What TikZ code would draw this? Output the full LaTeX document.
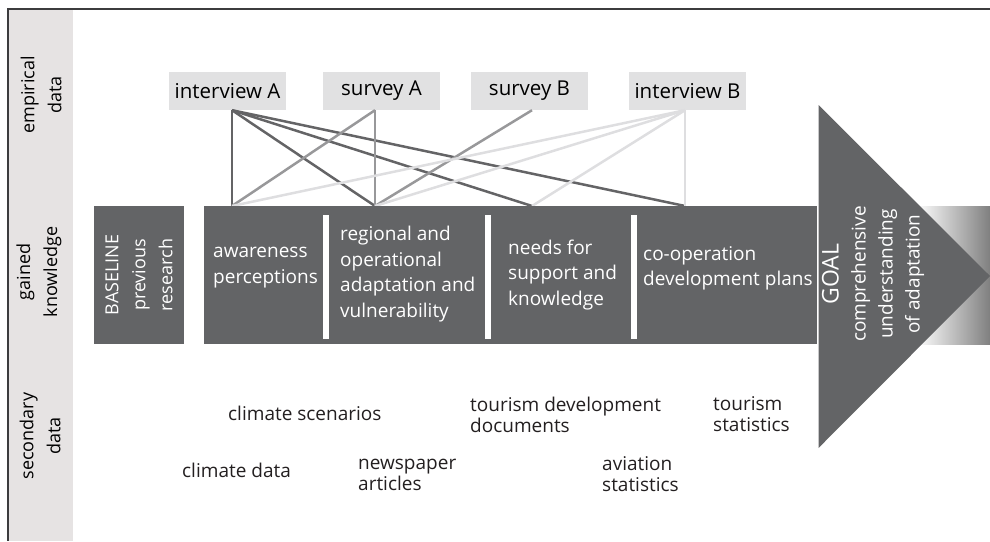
\documentclass[tikz,border=0pt]{standalone}
\usepackage{fontspec}
\setmainfont{Open Sans}
\usetikzlibrary{positioning}
\definecolor{knowgray}{RGB}{99,100,102}
\definecolor{empgray}{RGB}{225,225,226}
\definecolor{bandgray}{RGB}{230,227,227}
\definecolor{framegray}{RGB}{60,60,62}
\definecolor{linedark}{RGB}{100,100,102}
\definecolor{linemid}{RGB}{152,152,154}
\definecolor{linelight}{RGB}{222,222,224}
\definecolor{sectextcol}{RGB}{35,31,32}

\tikzset{
  empbox/.style={fill=empgray, minimum width=117pt, minimum height=38pt,
                 inner sep=0pt, font=\fontsize{20.5}{22}\selectfont},
  knowbox/.style={fill=knowgray, minimum height=138pt, inner sep=0pt},
  knowtext/.style={text=white, align=left, anchor=west, inner sep=0pt,
                   font=\fontsize{19}{25.5}\selectfont},
  sectext/.style={text=sectextcol, align=left, anchor=west, inner sep=0pt,
                  font=\fontsize{19}{21}\selectfont},
  bandlabel/.style={rotate=90, align=center, inner sep=0pt,
                    font=\fontsize{18}{27}\selectfont},
  link/.style={line width=2.5pt}
}

\begin{document}
\begin{tikzpicture}[x=1pt, y=-1pt]
\useasboundingbox (0,0) rectangle (990,541);

% side band with row labels
\fill[bandgray] (8,9) rectangle (73,541);
\draw[framegray, line width=1.5pt] (990,9) -- (8,9) -- (8,541);
\node[bandlabel] (lblemp)  at (41,95)  {empirical\\data};
\node[bandlabel] (lblgain) at (39,272) {gained\\knowledge};
\node[bandlabel] (lblsec)  at (40,436) {secondary\\data};

% targets on top of the knowledge bar
\coordinate (k1) at (232,206);
\coordinate (k2) at (375,206);
\coordinate (k3) at (532,206);
\coordinate (k4) at (685,206);

% empirical data sources
\node[empbox] (intA)  at (227.5,91) {interview A};
\node[empbox] (survA) at (381.5,91) {survey A};
\node[empbox] (survB) at (529.5,91) {survey B};
\node[empbox] (intB)  at (687.5,91) {interview B};
\coordinate (a1) at (intA.south -| k1);
\coordinate (a2) at (survA.south -| k2);
\coordinate (a3) at (survB.south -| k3);
\coordinate (a4) at (intB.south -| k4);

% links: dark, medium, light
\foreach \k in {k1,k2,k3,k4}
  \draw[link, linedark] (a1) -- (\k);
\draw[link, linemid] (a2) -- (k1);
\draw[link, linemid] (a2) -- (k2);
\draw[link, linemid] (a3) -- (k2);
\foreach \k in {k1,k2,k3,k4}
  \draw[link, linelight] (a4) -- (\k);

% fading arrow body behind the goal
\shade[left color=white, right color=black!50] (916,206) rectangle (990,344);

% gained knowledge
\node[knowbox, minimum width=90pt] (base) at (139,275) {};
\node[rotate=90, text=white, align=center, inner sep=0pt,
      font=\fontsize{18}{27}\selectfont] (basetext) at (base.center)
      {BASELINE\\previous\\research};
\node[knowbox, minimum width=613pt] (know) at (510.5,275) {};
\foreach \x in {323,485,631}
  \fill[white] (\x,215) rectangle ++(6,124);

\node[knowtext] (aware)  at (213,267.5) {awareness\\perceptions};
\node[knowtext] (region) at (340,274)   {regional and\\operational\\adaptation and\\vulnerability};
\node[knowtext] (needs)  at (508,275)   {needs for\\support and\\knowledge};
\node[knowtext] (coop)   at (643,268.5) {co-operation\\development plans};

% goal arrow head
\fill[knowgray] (818.5,105) -- (990,276) -- (818.5,448) -- cycle;
\node[rotate=90, text=white, align=center, inner sep=0pt,
      font=\fontsize{19}{27}\selectfont] (goal) at (873,274)
      {{\fontsize{23}{27}\selectfont GOAL}\\comprehensive\\understanding\\of adaptation};

% secondary data
\node[sectext] (scen)     at (228,413)   {climate scenarios};
\node[sectext] (tourdev)  at (470,414.5) {tourism development\\documents};
\node[sectext] (tourstat) at (713,414.5) {tourism\\statistics};
\node[sectext] (cdata)    at (182,470)   {climate data};
\node[sectext] (news)     at (358,474.5) {newspaper\\articles};
\node[sectext] (avia)     at (602,474.5) {aviation\\statistics};
\end{tikzpicture}
\end{document}
